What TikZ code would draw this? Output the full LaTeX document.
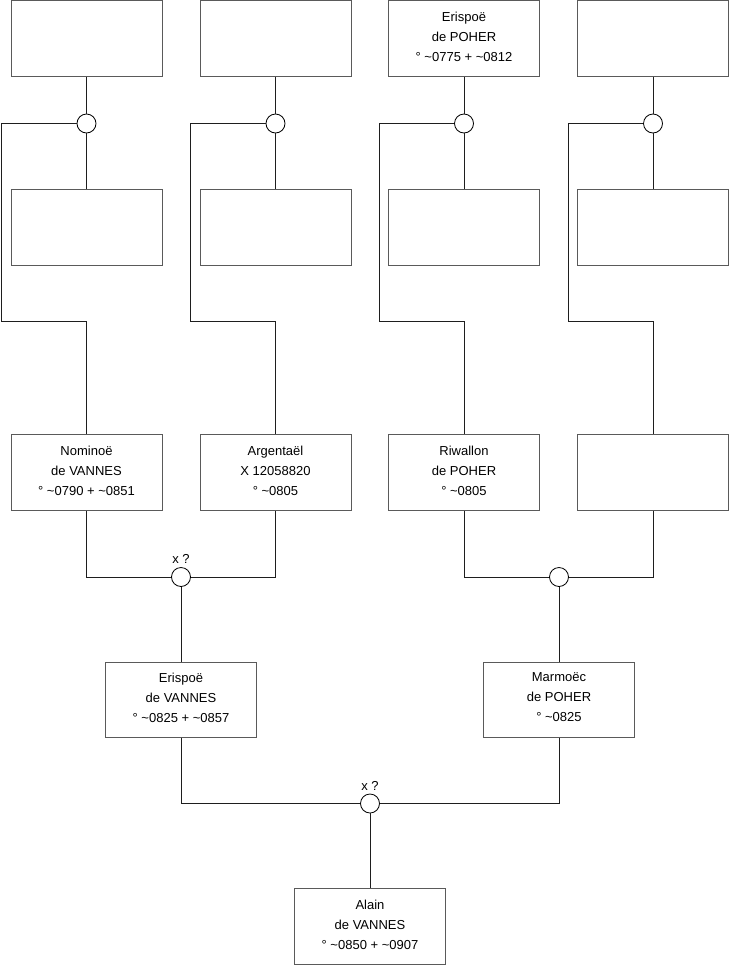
\documentclass[tikz,border=0pt]{standalone}
\usepackage{fontspec}
\setmainfont{Liberation Sans}
\begin{document}
\begin{tikzpicture}[x=1pt,y=-1pt,
  person/.style={draw={rgb,255:red,90;green,90;blue,90}, line width=1pt, minimum width=151pt, minimum height=76pt, inner sep=0pt, align=center, font=\fontsize{13}{20}\selectfont, execute at end node={\rule[-4pt]{0pt}{4pt}}},
  union/.style={draw=black, circle, line width=0.8pt, minimum size=19pt, inner sep=0pt},
  link/.style={draw={rgb,255:red,30;green,30;blue,30}, line width=0.9pt},
  lbl/.style={font=\fontsize{13}{15}\selectfont, inner sep=0pt}]
\useasboundingbox (0,0) rectangle (740,975);
% row 1
\node[person] (a1) at (86.5,38.5) {};
\node[person] (a2) at (275.5,38.5) {};
\node[person] (a3) at (464,38.5) {Erispoë\\de POHER\\° \textasciitilde0775 + \textasciitilde0812};
\node[person] (a4) at (653,38.5) {};
% unions row 1
\node[union] (u1) at (86.5,123.5) {};
\node[union] (u2) at (275.5,123.5) {};
\node[union] (u3) at (464,123.5) {};
\node[union] (u4) at (653,123.5) {};
% row 2
\node[person] (b1) at (86.5,227) {};
\node[person] (b2) at (275.5,227) {};
\node[person] (b3) at (464,227) {};
\node[person] (b4) at (653,227) {};
% row 3
\node[person] (c1) at (86.5,472.5) {Nominoë\\de VANNES\\° \textasciitilde0790 + \textasciitilde0851};
\node[person] (c2) at (275.5,472.5) {Argentaël\\X 12058820\\° \textasciitilde0805};
\node[person] (c3) at (464,472.5) {Riwallon\\de POHER\\° \textasciitilde0805};
\node[person] (c4) at (653,472.5) {};
% corner coordinates
\coordinate (k1) at (1.7,321.7);
\coordinate (k2) at (190.5,321.7);
\coordinate (k3) at (379.5,321.7);
\coordinate (k4) at (568.5,321.7);
% unions row 3
\node[union] (m1) at (181,577) {};
\node[union] (m2) at (559,577) {};
\node[lbl] (x1) at (181,559) {x ?};
% row 4
\node[person, minimum height=75pt] (d1) at (181,699.5) {Erispoë\\de VANNES\\° \textasciitilde0825 + \textasciitilde0857};
\node[person, minimum height=75pt] (d2) at (559,699.5) {Marmoëc\\de POHER\\° \textasciitilde0825};
% final union
\node[union] (m3) at (370,803.5) {};
\node[lbl] (x3) at (370,786) {x ?};
% row 5
\node[person] (e1) at (370,926.5) {Alain\\de VANNES\\° \textasciitilde0850 + \textasciitilde0907};
% connectors
\foreach \i in {1,2,3,4}{
  \draw[link] (a\i.south) -- (u\i.north);
  \draw[link] (u\i.south) -- (b\i.north);
  \draw[link] (u\i.west) -| (k\i) -| (c\i.north);
}
\draw[link] (c1.south) |- (m1.west);
\draw[link] (c2.south) |- (m1.east);
\draw[link] (m1.south) -- (d1.north);
\draw[link] (c3.south) |- (m2.west);
\draw[link] (c4.south) |- (m2.east);
\draw[link] (m2.south) -- (d2.north);
\draw[link] (d1.south) |- (m3.west);
\draw[link] (d2.south) |- (m3.east);
\draw[link] (m3.south) -- (e1.north);
\end{tikzpicture}
\end{document}
